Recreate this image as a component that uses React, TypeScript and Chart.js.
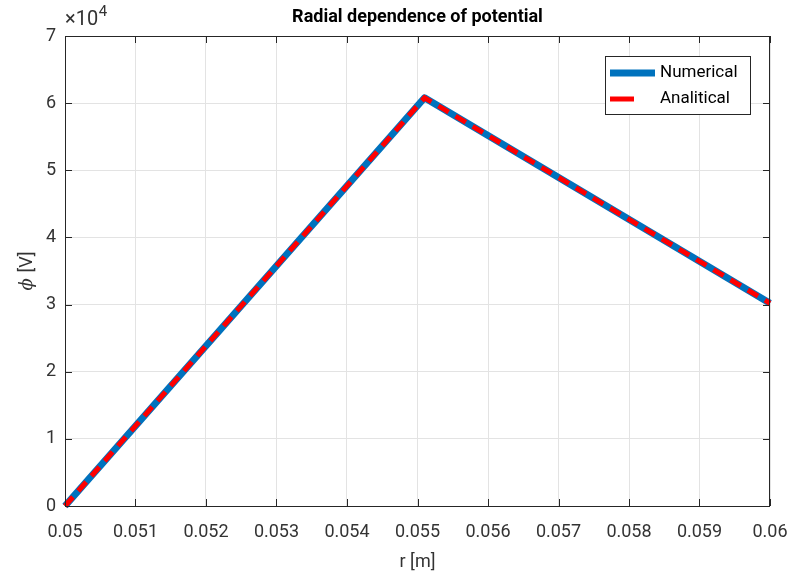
import React, { useEffect, useRef } from "react";
import { Chart, registerables } from "chart.js";
Chart.register(...registerables);

const numR = [0.05, 0.0551, 0.06];
const numPhi = [0, 60800, 30200];
const anaR = [0.05, 0.0551, 0.06];
const anaPhi = [0, 60800, 30200];
const xMin = 0.05, xMax = 0.06, xStep = 0.001;
const yMin = 0, yMax = 70000, yStep = 10000;
const titleText = "Radial dependence of potential";
const xLabel = "r [m]";
const yLabel = "[V]";
const legendLabels = ["Numerical", "Analitical"];
const BLUE = "#0072BD";
const RED = "#FF0000";
const TXT = "#333333";
const FONT = "Roboto, 'Noto Sans', sans-serif";

const decor = {
  id: "decor",
  afterDraw(chart: any) {
    const { ctx, chartArea: a, scales } = chart;
    const xs = scales.x, ys = scales.y;
    ctx.save();
    ctx.strokeStyle = "#262626";
    ctx.lineWidth = 1;
    ctx.strokeRect(a.left + 0.5, a.top + 0.5, a.right - a.left - 1, a.bottom - a.top);
    const tl = 7;
    ctx.beginPath();
    xs.ticks.forEach((t: any) => {
      const px = Math.round(xs.getPixelForValue(t.value)) + 0.5;
      ctx.moveTo(px, a.bottom); ctx.lineTo(px, a.bottom - tl);
      ctx.moveTo(px, a.top); ctx.lineTo(px, a.top + tl);
    });
    ys.ticks.forEach((t: any) => {
      const py = Math.round(ys.getPixelForValue(t.value)) + 0.5;
      ctx.moveTo(a.left, py); ctx.lineTo(a.left + tl, py);
      ctx.moveTo(a.right, py); ctx.lineTo(a.right - tl, py);
    });
    ctx.stroke();
    ctx.fillStyle = "#000";
    ctx.font = `bold 18px ${FONT}`;
    ctx.textAlign = "center";
    ctx.textBaseline = "middle";
    ctx.fillText(titleText, (a.left + a.right) / 2, 17);
    ctx.fillStyle = TXT;
    ctx.font = `18px ${FONT}`;
    ctx.fillText(xLabel, (a.left + a.right) / 2, 562);
    ctx.save();
    ctx.translate(27, (a.top + a.bottom) / 2);
    ctx.rotate(-Math.PI / 2);
    ctx.font = `italic 18px 'DejaVu Serif', serif`;
    const phiW = ctx.measureText("\u03D5 ").width;
    ctx.font = `18px ${FONT}`;
    const restW = ctx.measureText(yLabel).width;
    const start = -(phiW + restW) / 2;
    ctx.textAlign = "left";
    ctx.font = `italic 18px 'DejaVu Serif', serif`;
    ctx.fillText("\u03D5 ", start, 0);
    ctx.font = `18px ${FONT}`;
    ctx.fillText(yLabel, start + phiW, 0);
    ctx.restore();
    // exponent
    ctx.textAlign = "left";
    ctx.font = `20px ${FONT}`;
    const w10 = ctx.measureText("\u00D710").width;
    ctx.fillText("\u00D710", 65, 20);
    ctx.font = `15px ${FONT}`;
    ctx.fillText("4", 65 + w10 + 0.5, 12);
    // legend
    const lx = 605, ly = 56, lw = 145, lh = 58;
    ctx.fillStyle = "#fff";
    ctx.fillRect(lx, ly, lw, lh);
    ctx.strokeStyle = "#262626";
    ctx.lineWidth = 1;
    ctx.strokeRect(lx + 0.5, ly + 0.5, lw, lh);
    ctx.lineCap = "butt";
    ctx.strokeStyle = BLUE; ctx.lineWidth = 7;
    ctx.beginPath(); ctx.moveTo(610, 73); ctx.lineTo(655, 73); ctx.stroke();
    ctx.strokeStyle = RED; ctx.lineWidth = 5;
    ctx.beginPath(); ctx.moveTo(610, 99); ctx.lineTo(634, 99); ctx.stroke();
    ctx.fillStyle = "#000";
    ctx.font = `17px ${FONT}`;
    ctx.textBaseline = "middle";
    ctx.fillText(legendLabels[0], 660, 73);
    ctx.fillText(legendLabels[1], 660, 99);
    ctx.restore();
  },
};

export default function App() {
  const ref = useRef<HTMLCanvasElement>(null);
  useEffect(() => {
    const chart = new Chart(ref.current!, {
      type: "line",
      data: {
        datasets: [
          {
            label: legendLabels[0],
            data: numR.map((r, i) => ({ x: r, y: numPhi[i] })),
            borderColor: BLUE,
            borderWidth: 7,
            pointRadius: 0,
            borderJoinStyle: "round",
            tension: 0,
            order: 2,
            clip: false as any,
          },
          {
            label: legendLabels[1],
            data: anaR.map((r, i) => ({ x: r, y: anaPhi[i] })),
            borderColor: RED,
            borderWidth: 5,
            borderDash: [12, 8],
            pointRadius: 0,
            tension: 0,
            order: 1,
            clip: false as any,
          },
        ],
      },
      options: {
        animation: false,
        responsive: false,
        layout: { padding: { left: 0, right: 24, top: 36, bottom: 0 } },
        plugins: { legend: { display: false }, title: { display: false }, tooltip: { enabled: false } },
        scales: {
          x: {
            type: "linear",
            min: xMin,
            max: xMax,
            afterFit: (s: any) => { s.height = 74; s.paddingRight = 0; s.paddingLeft = 0; },
            afterBuildTicks: (s: any) => {
              const t = [];
              for (let i = 0; i <= Math.round((xMax - xMin) / xStep); i++) t.push({ value: +(xMin + i * xStep).toFixed(4) });
              s.ticks = t;
            },
            grid: { color: "#e3e3e3", drawTicks: false },
            border: { display: false },
            ticks: {
              padding: 16,
              color: TXT,
              font: { family: FONT, size: 18 },
              maxRotation: 0,
              autoSkip: false,
              callback: (v: any) => String(Number(Number(v).toFixed(4))),
            },
          },
          y: {
            type: "linear",
            min: yMin,
            max: yMax,
            afterFit: (s: any) => { s.width = 65; s.paddingTop = 0; s.paddingBottom = 0; },
            grid: { color: "#e3e3e3", drawTicks: false },
            border: { display: false },
            ticks: {
              stepSize: yStep,
              padding: 9,
              color: TXT,
              font: { family: FONT, size: 18 },
              callback: (v: any) => String(Math.round(Number(v) / 10000)),
            },
          },
        },
      },
      plugins: [decor],
    } as any);
    return () => chart.destroy();
  }, []);
  return (
    <div style={{ position: "fixed", left: 0, top: 0, width: 794, height: 580, background: "#fff" }}>
      <canvas ref={ref} width={794} height={580} style={{ width: 794, height: 580 }} />
    </div>
  );
}
